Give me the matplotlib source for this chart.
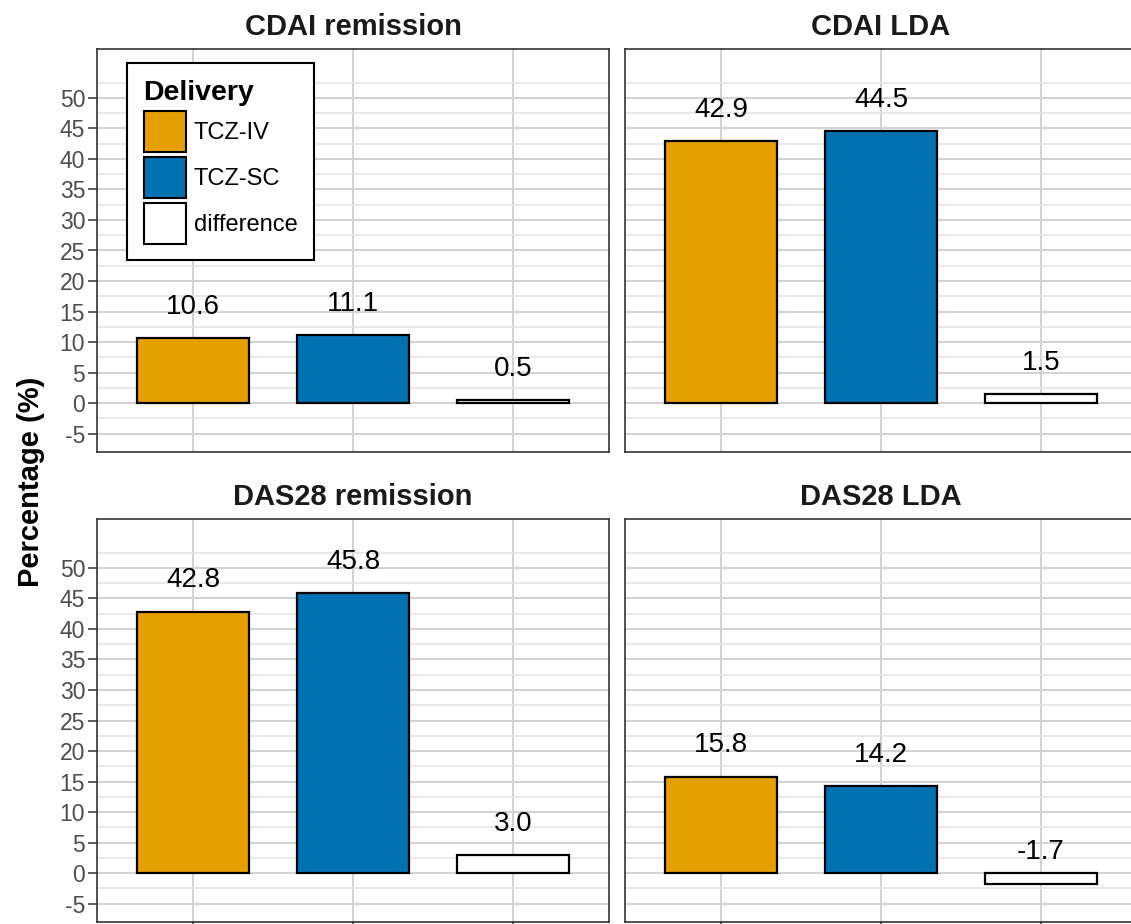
import numpy as np
import matplotlib
matplotlib.use('Agg')
import matplotlib.pyplot as plt
from matplotlib.patches import Patch

plt.rcParams['font.family'] = ['Liberation Sans', 'DejaVu Sans']
plt.rcParams['axes.unicode_minus'] = False

panels = ['CDAI remission', 'CDAI LDA', 'DAS28 remission', 'DAS28 LDA']
groups = ['TCZ-IV', 'TCZ-SC', 'difference']
tcz_iv = [10.6, 42.9, 42.8, 15.8]
tcz_sc = [11.1, 44.5, 45.8, 14.2]
difference = [0.5, 1.5, 3.0, -1.7]
y_ticks = [-5, 0, 5, 10, 15, 20, 25, 30, 35, 40, 45, 50]

colors = ['#E69F00', '#0072B2', '#FFFFFF']
W, H = 1131, 924
fig = plt.figure(figsize=(W / 100, H / 100), dpi=100)

# panel boxes in pixels (left, top), same size
boxes = [(97, 49), (625, 49), (97, 519), (625, 519)]
pw, ph = 512, 403

x = np.arange(1, 4)
axes = []
for i, name in enumerate(panels):
    l, t = boxes[i]
    ax = fig.add_axes([l / W, (H - t - ph) / H, pw / W, ph / H])
    vals = [tcz_iv[i], tcz_sc[i], difference[i]]
    ax.set_xlim(0.4, 3.6)
    ax.set_ylim(-8, 58)
    ax.bar(x, vals, width=0.7, color=colors, edgecolor='black', linewidth=1.6, zorder=3)
    for xi, v in zip(x, vals):
        ax.text(xi, v + 3.0, f'{v:.1f}', ha='center', va='bottom', fontsize=20, color='black', zorder=4)
    ax.set_yticks(y_ticks)
    ax.set_yticks(np.arange(-2.5, 56, 5), minor=True)
    ax.set_xticks(x)
    ax.set_xticklabels([])
    ax.grid(True, which='major', color='#d2d2d2', linewidth=1.4, zorder=0)
    ax.grid(True, which='minor', axis='y', color='#e3e3e3', linewidth=1.1, zorder=0)
    ax.set_axisbelow(True)
    for s in ax.spines.values():
        s.set_color('#333333')
        s.set_linewidth(1.2)
    ax.tick_params(axis='y', which='major', length=6.5, width=1.1, color='#333333',
                   labelsize=16.5, labelcolor='#4d4d4d', pad=2)
    ax.tick_params(axis='y', which='minor', length=0)
    if i < 2:
        ax.tick_params(axis='x', length=0)
    else:
        ax.tick_params(axis='x', length=6.5, width=1.1, color='#333333')
    if i % 2 == 1:
        ax.set_yticklabels([])
        ax.tick_params(axis='y', which='major', length=0)
    ax.set_title(name, fontsize=21, fontweight='bold', color='#1a1a1a', pad=10)
    axes.append(ax)

handles = [Patch(facecolor=c, edgecolor='black', linewidth=1.5) for c in colors]
leg = axes[0].legend(handles, groups, loc='upper left', bbox_to_anchor=(30 / pw, 1 - 14 / ph),
                     fontsize=17, title='Delivery', title_fontproperties={'weight': 'bold', 'size': 20.5},
                     handlelength=1.78, handleheight=2.29, labelspacing=0.22, handletextpad=0.34,
                     borderpad=0.7, alignment='left', fancybox=False, framealpha=1,
                     edgecolor='black', borderaxespad=0)
leg.get_frame().set_linewidth(1.5)

fig.text(31 / W, 1 - 482 / H, 'Percentage (%)', rotation=90, ha='center', va='center',
         fontsize=21, fontweight='bold', color='black')

fig.savefig('out.png', dpi=100)
